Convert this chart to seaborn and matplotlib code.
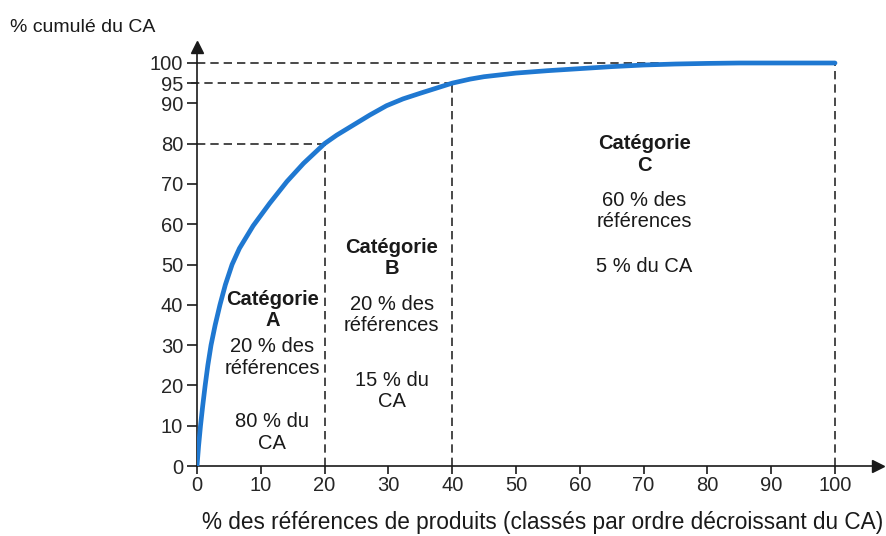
import matplotlib
matplotlib.use("Agg")
import matplotlib.pyplot as plt
import seaborn as sns
import pandas as pd

# ---- data ----
pct_refs = [0, 0.25, 0.55, 0.9, 1.28, 1.7, 2.2, 2.85, 3.6, 4.45, 5.5, 6.65, 8.8, 11.4,
            14.1, 16.7, 20, 21.9, 24.5, 27.1, 29.7, 32.3, 35.0, 37.6, 40, 42.8, 45,
            50, 55, 60, 65, 70, 75, 80, 85, 90, 95, 100]
pct_ca = [0, 5, 10, 15, 20, 25, 30, 35, 40, 45, 50, 54, 59.6, 65.2,
          70.6, 75.1, 80, 82.1, 84.6, 87.1, 89.4, 91.1, 92.5, 93.8, 95, 96.0, 96.6,
          97.5, 98.1, 98.6, 99.1, 99.5, 99.75, 99.9, 100, 100, 100, 100]
xtick_vals = [0, 10, 20, 30, 40, 50, 60, 70, 80, 90, 100]
ytick_vals = [0, 10, 20, 30, 40, 50, 60, 70, 80, 90, 95, 100]
cut_x = [20, 40, 100]
cut_y = [80, 95, 100]
cat_titles = ["Catégorie\nA", "Catégorie\nB", "Catégorie\nC"]
cat_refs = ["20 % des\nréférences", "20 % des\nréférences", "60 % des\nréférences"]
cat_ca = ["80 % du\nCA", "15 % du\nCA", "5 % du CA"]
ylabel = "% cumulé du CA"
xlabel = "% des références de produits (classés par ordre décroissant du CA)"

sns.set_style("ticks")
plt.rcParams["font.family"] = ["Liberation Sans", "DejaVu Sans"]

W, H = 886, 536
fig = plt.figure(figsize=(W / 100, H / 100), dpi=100)
x0px, x100px = 197, 835
y0px, y100px = 466, 63
right_px, top_px = 878, 47
ax = fig.add_axes([x0px / W, 1 - y0px / H, (right_px - x0px) / W, (y0px - top_px) / H])
ax.set_xlim(0, (right_px - x0px) / (x100px - x0px) * 100)
ax.set_ylim(0, (y0px - top_px) / (y0px - y100px) * 100)

df = pd.DataFrame({"refs": pct_refs, "ca": pct_ca})
sns.lineplot(data=df, x="refs", y="ca", ax=ax, color="#1f78d1", lw=3.4,
             solid_capstyle="round", solid_joinstyle="round", zorder=3)

dash_kw = dict(color="#2a2a2a", lw=1.2, dashes=(5, 3), clip_on=False, zorder=2)
for xc, yc in zip(cut_x, cut_y):
    ax.plot([xc, xc], [0, yc], **dash_kw)
    ax.plot([-0.9 if yc == 95 else 0, xc], [yc, yc], **dash_kw)

for s in ["top", "right"]:
    ax.spines[s].set_visible(False)
for s in ["left", "bottom"]:
    ax.spines[s].set_linewidth(1.2)
    ax.spines[s].set_color("#1a1a1a")
ax.plot(1, 0, ">", transform=ax.transAxes, color="#1a1a1a", ms=9, clip_on=False)
ax.plot(0, 1, "^", transform=ax.transAxes, color="#1a1a1a", ms=9, clip_on=False)

ax.set_xticks(xtick_vals)
ax.set_xticklabels([str(v) for v in xtick_vals], fontsize=14.5)
ax.set_yticks(ytick_vals)
ax.set_yticklabels([str(v) for v in ytick_vals], fontsize=14.5)
ax.tick_params(axis="x", length=6, width=1.2, pad=1, color="#1a1a1a")
ax.tick_params(axis="y", length=7, width=1.2, pad=3, color="#1a1a1a")
ax.set_xlabel("")
ax.set_ylabel("")

fs = 14.5
def txt(x, y, s, bold=False):
    ax.text(x, y, s, ha="center", va="center", fontsize=fs,
            fontweight="bold" if bold else "normal", color="#1a1a1a",
            linespacing=1.15, zorder=4)

# Category A
txt(11.8, 38.7, cat_titles[0], bold=True)
txt(11.8, 26.9, cat_refs[0])
txt(11.8, 8.3, cat_ca[0])
# Category B
txt(30.5, 51.7, cat_titles[1], bold=True)
txt(30.5, 37.4, cat_refs[1])
txt(30.5, 18.7, cat_ca[1])
# Category C
txt(70.1, 77.3, cat_titles[2], bold=True)
txt(70.1, 63.2, cat_refs[2])
txt(70.1, 49.4, cat_ca[2])

fig.text(10 / W, 1 - 28 / H, ylabel, ha="left", va="center", fontsize=14, color="#1a1a1a")
fig.text(543 / W, 1 - 522 / H, xlabel, ha="center", va="center", fontsize=16.3,
         color="#1a1a1a")

fig.savefig("out.png", dpi=100, facecolor="white")
